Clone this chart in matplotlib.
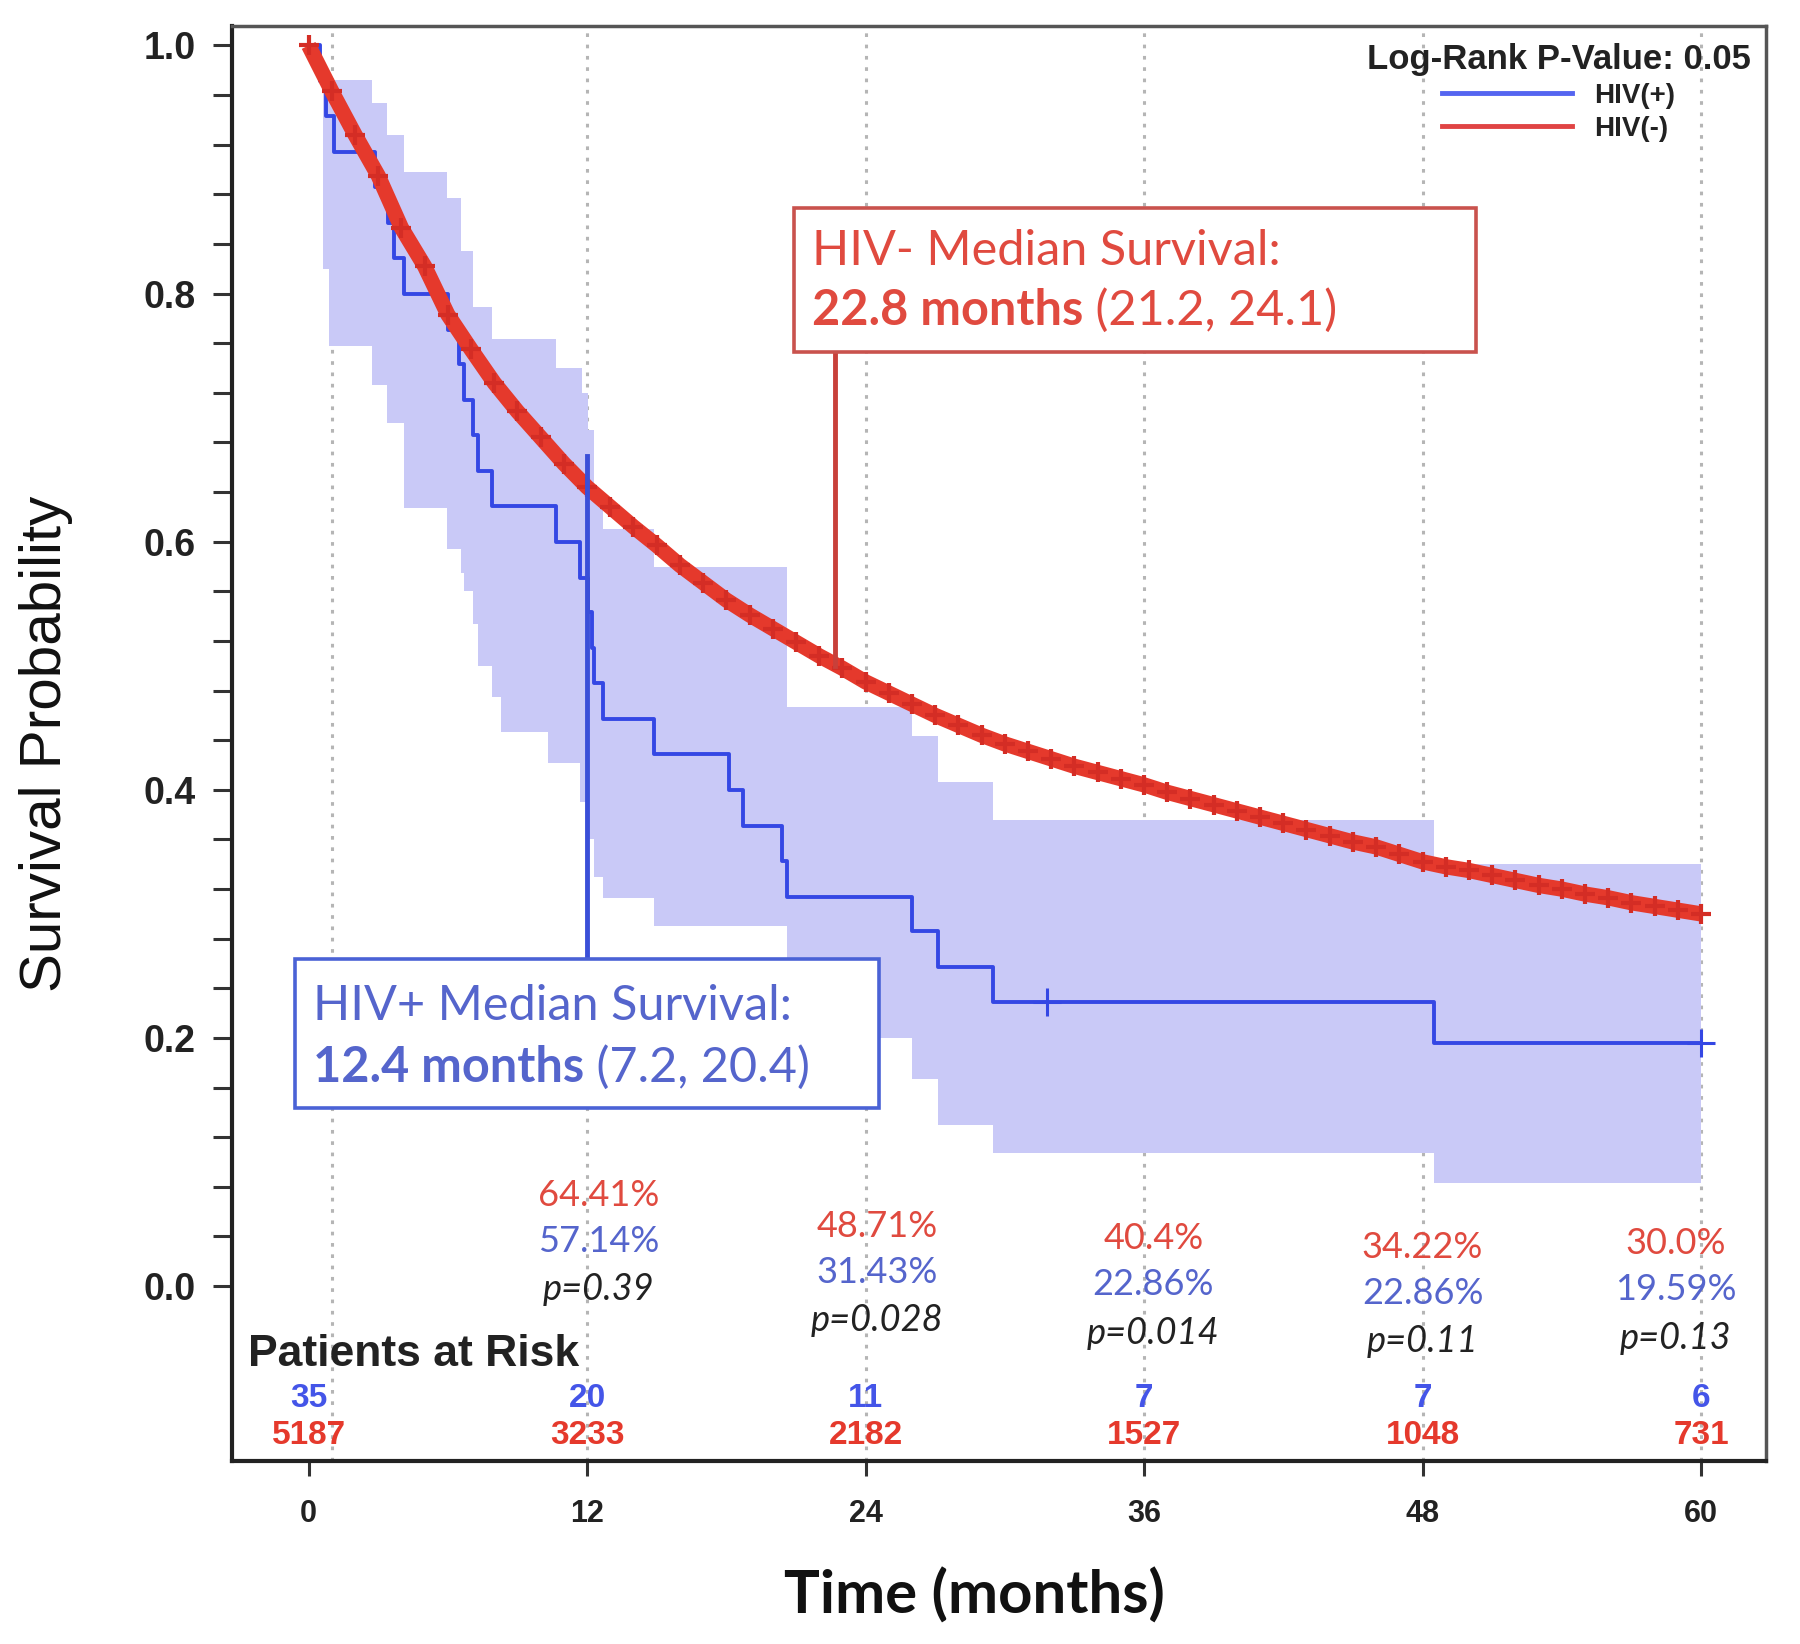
import matplotlib
matplotlib.use("Agg")
import matplotlib.pyplot as plt
from matplotlib.patches import Rectangle
from matplotlib.lines import Line2D

# HIV(-) survival
red_t = list(range(0, 61))
red_s = [1.000, 0.963, 0.928, 0.895, 0.853, 0.822, 0.783, 0.755, 0.728, 0.705,
         0.684, 0.663, 0.644, 0.628, 0.612, 0.597, 0.581, 0.567, 0.553, 0.541,
         0.530, 0.519, 0.508, 0.498, 0.487, 0.478, 0.469, 0.460, 0.452, 0.444,
         0.437, 0.431, 0.425, 0.419, 0.414, 0.409, 0.404, 0.398, 0.393, 0.388,
         0.383, 0.378, 0.373, 0.368, 0.363, 0.358, 0.354, 0.348, 0.342, 0.338,
         0.335, 0.331, 0.327, 0.323, 0.320, 0.316, 0.313, 0.309, 0.306, 0.303,
         0.300]

# HIV(+) Kaplan-Meier steps
blue_t = [0, 0.5, 0.75, 1.1, 2.85, 3.4, 3.7, 4.1, 6.0, 6.5, 6.7, 7.1, 7.3, 7.9,
          10.65, 11.7, 12.05, 12.2, 12.3, 12.7, 14.9, 18.1, 18.7, 20.4, 20.6,
          26.0, 27.1, 29.5, 48.5, 60.0]
blue_s = [1.0, 0.971, 0.943, 0.914, 0.886, 0.857, 0.829, 0.800, 0.771, 0.743,
          0.714, 0.686, 0.657, 0.629, 0.600, 0.571, 0.543, 0.514, 0.486, 0.457,
          0.429, 0.400, 0.371, 0.343, 0.314, 0.286, 0.257, 0.229, 0.196, 0.196]
blue_cens_t = [31.8, 60.0]
blue_cens_s = [0.229, 0.196]

# HIV(+) confidence band
band_t = [0.6, 0.87, 2.74, 3.39, 4.1, 5.98, 6.55, 6.7, 7.1, 7.3, 7.9, 8.3, 10.3,
          10.65, 11.7, 11.8, 12.05, 12.3, 12.7, 14.9, 20.6, 26.0, 27.1, 29.5,
          48.5, 60.0]
band_hi = [0.972, 0.972, 0.954, 0.928, 0.898, 0.877, 0.834, 0.834, 0.789, 0.789,
           0.763, 0.763, 0.763, 0.740, 0.740, 0.720, 0.690, 0.640, 0.610, 0.580,
           0.467, 0.443, 0.406, 0.376, 0.340, 0.340]
band_lo = [0.820, 0.758, 0.726, 0.696, 0.627, 0.594, 0.575, 0.560, 0.534, 0.500,
           0.475, 0.447, 0.422, 0.422, 0.390, 0.390, 0.360, 0.330, 0.313, 0.290,
           0.200, 0.167, 0.130, 0.107, 0.083, 0.083]

# yearly survival labels
year_t = [12, 24, 36, 48, 60]
red_pct = ["64.41%", "48.71%", "40.4%", "34.22%", "30.0%"]
blue_pct = ["57.14%", "31.43%", "22.86%", "22.86%", "19.59%"]
p_vals = ["p=0.39", "p=0.028", "p=0.014", "p=0.11", "p=0.13"]

# patients at risk
risk_t = [0, 12, 24, 36, 48, 60]
risk_blue = [35, 20, 11, 7, 7, 6]
risk_red = [5187, 3233, 2182, 1527, 1048, 731]

RED = "#e5392c"
BLUE = "#3447e4"
BAND = "#c9c9f7"
TXT_RED = "#e04a3f"
TXT_BLUE = "#5565cc"

fig = plt.figure(figsize=(18, 16.44), dpi=100)
ax = fig.add_axes([0.1289, 0.1113, 0.8522, 0.8729])

ax.fill_between(band_t, band_lo, band_hi, step="post", color=BAND, lw=0, zorder=1)
ax.step(blue_t, blue_s, where="post", color=BLUE, lw=2.8, zorder=3)
ax.plot(blue_cens_t, blue_cens_s, "+", color=BLUE, ms=20, mew=2.2, zorder=3)
ax.plot(red_t, red_s, color=RED, lw=11, zorder=4, solid_capstyle="butt")
ax.plot(red_t, red_s, "+", color="#d42d25", ms=15, mew=3, zorder=4)

for g in [1, 12, 24, 36, 48, 60]:
    ax.axvline(g, color="#b5b5b5", ls=(0, (1.2, 2.5)), lw=2.2, zorder=0)

# median markers and boxes
ax.plot([22.7, 22.7], [0.5, 0.753], color="#c8403a", lw=3.5, zorder=5)
ax.add_patch(Rectangle((20.9, 0.753), 29.4, 0.116, facecolor="white",
                       edgecolor="#c9524d", lw=2.6, zorder=6))
ax.text(21.7, 0.834, "HIV- Median Survival:", color=TXT_RED, fontsize=35,
        family="Lato", va="center", ha="left", zorder=7)
t1 = ax.text(21.7, 0.786, "22.8 months", color=TXT_RED, fontsize=35,
             family="Lato", fontweight="bold", va="center", ha="left", zorder=7)
ax.annotate(" (21.2, 24.1)", xy=(1, 0.5), xycoords=t1, va="center", ha="left",
            color=TXT_RED, fontsize=35, family="Lato", zorder=7)

ax.plot([12.0, 12.0], [0.264, 0.669], color="#3a4fd8", lw=3.5, zorder=5)
ax.add_patch(Rectangle((-0.6, 0.1435), 25.2, 0.1205, facecolor="white",
                       edgecolor="#4a62d6", lw=2.6, zorder=6))
ax.text(0.2, 0.226, "HIV+ Median Survival:", color=TXT_BLUE, fontsize=35,
        family="Lato", va="center", ha="left", zorder=7)
t2 = ax.text(0.2, 0.176, "12.4 months", color=TXT_BLUE, fontsize=35,
             family="Lato", fontweight="bold", va="center", ha="left", zorder=7)
ax.annotate(" (7.2, 20.4)", xy=(1, 0.5), xycoords=t2, va="center", ha="left",
            color=TXT_BLUE, fontsize=35, family="Lato", zorder=7)

# yearly labels
lab_x = [12.5, 24.5, 36.4, 48.0, 58.9]
lab_y = [0.073, 0.048, 0.038, 0.031, 0.034]
for i in range(len(year_t)):
    ax.text(lab_x[i], lab_y[i], red_pct[i], color=TXT_RED, fontsize=26,
            family="Lato", ha="center", va="center")
    ax.text(lab_x[i], lab_y[i] - 0.037, blue_pct[i], color=TXT_BLUE, fontsize=26,
            family="Lato", ha="center", va="center")
    ax.text(lab_x[i], lab_y[i] - 0.076, p_vals[i], color="#222222", fontsize=26,
            family="Lato", style="italic", ha="center", va="center")

# patients at risk
ax.text(-2.6, -0.055, "Patients at Risk", fontsize=32, fontweight="bold",
        family="Liberation Sans", color="#222222", ha="left", va="center")
for i in range(len(risk_t)):
    ax.text(risk_t[i], -0.091, str(risk_blue[i]), color="#4455e8", fontsize=24,
            fontweight="bold", family="Liberation Sans", ha="center", va="center")
    ax.text(risk_t[i], -0.1206, str(risk_red[i]), color="#e5392c", fontsize=24,
            fontweight="bold", family="Liberation Sans", ha="center", va="center")

# legend
h_blue = Line2D([], [], color="#5565f0", lw=3.5)
h_red = Line2D([], [], color="#e04444", lw=3.5)
leg = ax.legend([h_blue, h_red], ["HIV(+)", "HIV(-)"], loc="upper right",
                bbox_to_anchor=(0.990, 0.988), frameon=False, handlelength=4.7,
                handletextpad=0.8, labelspacing=0.25, borderpad=0, borderaxespad=0,
                title="Log-Rank P-Value: 0.05",
                prop={"family": "Liberation Sans", "weight": "bold", "size": 20},
                title_fontproperties={"family": "Liberation Sans", "weight": "bold",
                                      "size": 25})
leg.get_title().set_color("#222222")
for t in leg.get_texts():
    t.set_color("#222222")

ax.set_xlim(-3.3, 62.8)
ax.set_ylim(-0.141, 1.0157)
ax.set_xticks(risk_t)
ax.set_xticklabels([str(v) for v in risk_t])
ax.set_yticks([0.0, 0.2, 0.4, 0.6, 0.8, 1.0])
ax.set_yticklabels(["0.0", "0.2", "0.4", "0.6", "0.8", "1.0"])
ax.set_yticks([i * 0.04 for i in range(26)], minor=True)
ax.tick_params(axis="y", which="both", direction="out", length=14, width=2.2,
               pad=12, labelsize=27, color="#333333")
ax.tick_params(axis="x", which="major", direction="out", length=11, width=2.2,
               pad=16, labelsize=22, color="#333333")
for lbl in ax.get_xticklabels() + ax.get_yticklabels():
    lbl.set_fontweight("bold")
    lbl.set_family("Liberation Sans")
    lbl.set_color("#222222")

for side in ["left", "bottom"]:
    ax.spines[side].set_linewidth(3)
    ax.spines[side].set_color("#222222")
for side in ["top", "right"]:
    ax.spines[side].set_linewidth(2.5)
    ax.spines[side].set_color("#555555")

ax.text(-0.121, 0.5, "Survival Probability", transform=ax.transAxes, rotation=90,
        fontsize=42, family="Liberation Sans", color="#111111",
        ha="center", va="center")
ax.text(0.484, -0.094, "Time (months)", transform=ax.transAxes, fontsize=43,
        family="Lato", fontweight="bold", color="#111111", ha="center", va="center")

fig.savefig("out.png", dpi=100, facecolor="white")
